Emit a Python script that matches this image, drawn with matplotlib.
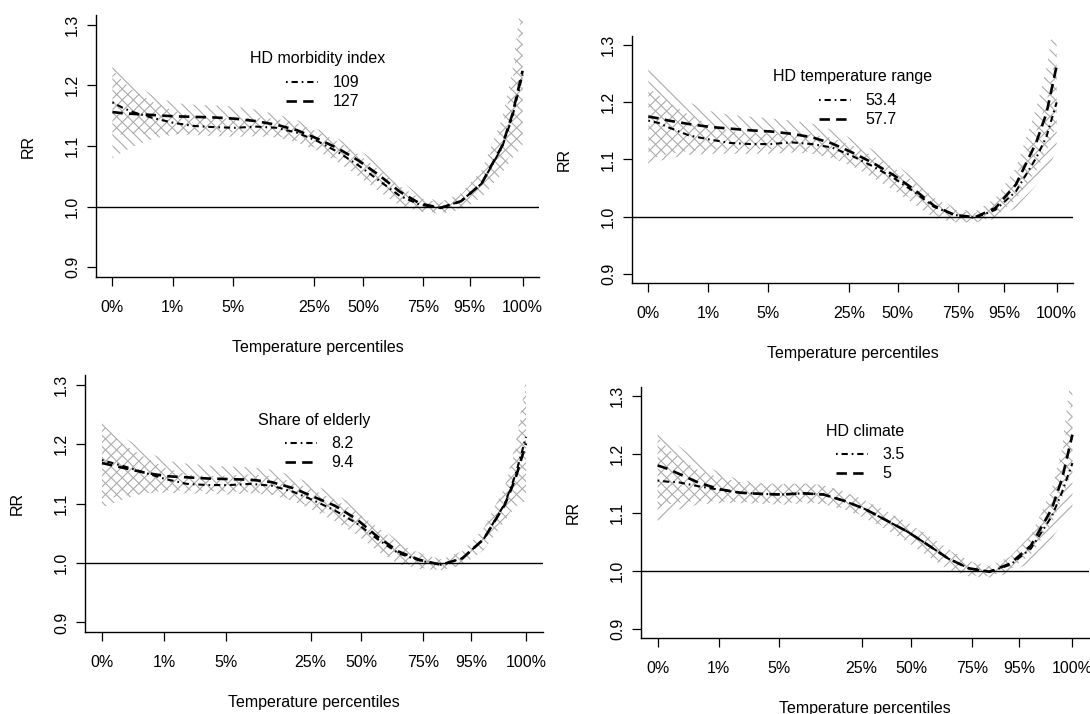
import matplotlib
matplotlib.use("Agg")
import matplotlib.pyplot as plt

plt.rcParams['font.family'] = ['Liberation Sans', 'DejaVu Sans']
plt.rcParams['font.size'] = 11.5
plt.rcParams['hatch.linewidth'] = 0.8
plt.rcParams['lines.scale_dashes'] = False

# temperature grid (x) and tick positions for the percentiles
temp = [-20, -18.75, -17.5, -15, -12.5, -10, -7.5, -5, -2.5, 0, 2.5, 5, 7.5,
        10, 12.5, 15, 17.5, 20, 22.5, 25, 27.5, 28.75, 30]
tick_temp = [-20, -12.65, -5.35, 4.6, 10.55, 17.9, 23.55, 30]
tick_labels = ['0%', '1%', '5%', '25%', '50%', '75%', '95%', '100%']

# panel 1: HD morbidity index
p1_title = 'HD morbidity index'
p1_labels = ['109', '127']
p1_dotdash = [1.172, 1.163, 1.156, 1.146, 1.138, 1.133, 1.131, 1.130, 1.132, 1.130, 1.122, 1.108,
              1.090, 1.068, 1.043, 1.018, 1.003, 0.998, 1.009, 1.038, 1.098, 1.148, 1.218]
p1_dashed = [1.156, 1.154, 1.153, 1.151, 1.149, 1.148, 1.147, 1.145, 1.141, 1.135, 1.126, 1.112,
             1.096, 1.076, 1.052, 1.025, 1.005, 0.998, 1.009, 1.038, 1.100, 1.152, 1.224]
p1_a_lo = [1.080, 1.090, 1.099, 1.112, 1.119, 1.122, 1.123, 1.123, 1.121, 1.117, 1.108, 1.096,
           1.078, 1.056, 1.030, 1.005, 0.992, 0.988, 0.995, 1.015, 1.055, 1.080, 1.100]
p1_a_hi = [1.232, 1.217, 1.204, 1.183, 1.171, 1.168, 1.167, 1.165, 1.160, 1.152, 1.143, 1.128,
           1.112, 1.094, 1.072, 1.045, 1.018, 1.008, 1.022, 1.060, 1.145, 1.225, 1.360]
p1_b_lo = [1.118, 1.119, 1.120, 1.120, 1.119, 1.118, 1.116, 1.115, 1.116, 1.114, 1.106, 1.092,
           1.073, 1.050, 1.025, 1.002, 0.992, 0.990, 0.998, 1.020, 1.065, 1.090, 1.105]
p1_b_hi = [1.226, 1.207, 1.192, 1.172, 1.158, 1.149, 1.146, 1.145, 1.147, 1.145, 1.138, 1.124,
           1.107, 1.086, 1.061, 1.034, 1.014, 1.006, 1.020, 1.056, 1.130, 1.205, 1.330]

# panel 2: HD temperature range
p2_title = 'HD temperature range'
p2_labels = ['53.4', '57.7']
p2_dotdash = [1.168, 1.164, 1.156, 1.142, 1.135, 1.129, 1.127, 1.127, 1.130, 1.127, 1.121, 1.106,
              1.088, 1.068, 1.044, 1.017, 1.003, 0.998, 1.012, 1.044, 1.103, 1.140, 1.200]
p2_dashed = [1.175, 1.172, 1.168, 1.162, 1.157, 1.154, 1.151, 1.149, 1.145, 1.139, 1.128, 1.112,
             1.094, 1.073, 1.048, 1.019, 1.003, 0.999, 1.015, 1.056, 1.130, 1.181, 1.264]
p2_a_lo = [1.100, 1.105, 1.110, 1.115, 1.117, 1.118, 1.118, 1.118, 1.117, 1.113, 1.104, 1.090,
           1.073, 1.052, 1.028, 1.003, 0.992, 0.990, 1.000, 1.030, 1.080, 1.115, 1.160]
p2_a_hi = [1.267, 1.245, 1.225, 1.200, 1.185, 1.178, 1.175, 1.172, 1.168, 1.163, 1.152, 1.136,
           1.117, 1.095, 1.068, 1.038, 1.015, 1.009, 1.032, 1.085, 1.190, 1.260, 1.370]
p2_b_lo = [1.092, 1.097, 1.102, 1.108, 1.110, 1.110, 1.110, 1.110, 1.112, 1.110, 1.102, 1.088,
           1.068, 1.047, 1.022, 0.998, 0.990, 0.990, 0.996, 1.015, 1.055, 1.080, 1.115]
p2_b_hi = [1.225, 1.213, 1.200, 1.178, 1.161, 1.150, 1.145, 1.144, 1.147, 1.144, 1.138, 1.124,
           1.106, 1.086, 1.062, 1.033, 1.012, 1.006, 1.026, 1.072, 1.150, 1.200, 1.290]

# panel 3: Share of elderly
p3_title = 'Share of elderly'
p3_labels = ['8.2', '9.4']
p3_dotdash = [1.173, 1.168, 1.163, 1.152, 1.141, 1.133, 1.131, 1.131, 1.133, 1.130, 1.120, 1.105,
              1.088, 1.067, 1.040, 1.016, 1.004, 0.997, 1.008, 1.040, 1.100, 1.148, 1.212]
p3_dashed = [1.168, 1.164, 1.160, 1.152, 1.146, 1.144, 1.142, 1.141, 1.140, 1.136, 1.126, 1.111,
             1.096, 1.074, 1.044, 1.019, 1.005, 0.997, 1.008, 1.040, 1.098, 1.142, 1.201]
p3_a_lo = [1.093, 1.100, 1.107, 1.117, 1.122, 1.122, 1.121, 1.120, 1.119, 1.116, 1.106, 1.092,
           1.076, 1.053, 1.024, 1.002, 0.992, 0.988, 0.996, 1.022, 1.070, 1.095, 1.105]
p3_a_hi = [1.240, 1.225, 1.212, 1.190, 1.172, 1.167, 1.164, 1.162, 1.161, 1.157, 1.147, 1.131,
           1.116, 1.095, 1.064, 1.036, 1.017, 1.006, 1.020, 1.058, 1.128, 1.190, 1.300]
p3_b_lo = [1.107, 1.110, 1.113, 1.117, 1.118, 1.117, 1.116, 1.115, 1.117, 1.114, 1.104, 1.088,
           1.070, 1.048, 1.020, 0.998, 0.990, 0.988, 0.996, 1.022, 1.072, 1.100, 1.115]
p3_b_hi = [1.232, 1.215, 1.200, 1.178, 1.160, 1.149, 1.146, 1.147, 1.149, 1.146, 1.136, 1.122,
           1.106, 1.086, 1.060, 1.032, 1.016, 1.006, 1.020, 1.058, 1.128, 1.200, 1.310]

# panel 4: HD climate
p4_title = 'HD climate'
p4_labels = ['3.5', '5']
p4_dotdash = [1.155, 1.153, 1.152, 1.145, 1.139, 1.134, 1.132, 1.131, 1.133, 1.131, 1.120, 1.106,
              1.087, 1.068, 1.045, 1.021, 1.004, 0.998, 1.010, 1.038, 1.093, 1.135, 1.185]
p4_dashed = [1.181, 1.175, 1.167, 1.151, 1.140, 1.134, 1.132, 1.131, 1.133, 1.131, 1.120, 1.106,
             1.087, 1.068, 1.045, 1.021, 1.004, 0.998, 1.012, 1.043, 1.106, 1.158, 1.234]
p4_a_lo = [1.110, 1.114, 1.117, 1.120, 1.119, 1.118, 1.117, 1.116, 1.118, 1.116, 1.107, 1.093,
           1.074, 1.054, 1.030, 1.006, 0.992, 0.990, 1.002, 1.028, 1.080, 1.125, 1.170]
p4_a_hi = [1.240, 1.228, 1.215, 1.188, 1.168, 1.156, 1.151, 1.149, 1.150, 1.147, 1.135, 1.120,
           1.101, 1.083, 1.060, 1.036, 1.016, 1.008, 1.024, 1.060, 1.140, 1.210, 1.360]
p4_b_lo = [1.085, 1.096, 1.105, 1.114, 1.116, 1.116, 1.115, 1.113, 1.116, 1.114, 1.105, 1.090,
           1.071, 1.050, 1.026, 1.002, 0.990, 0.988, 0.995, 1.015, 1.055, 1.080, 1.105]
p4_b_hi = [1.230, 1.210, 1.195, 1.172, 1.160, 1.152, 1.149, 1.148, 1.150, 1.147, 1.136, 1.121,
           1.103, 1.084, 1.062, 1.038, 1.017, 1.008, 1.024, 1.062, 1.135, 1.200, 1.300]

# axes boxes in pixels: left, right, top, bottom; legend title offset from top
boxes = [(96, 539, 15, 277), (632, 1073, 36, 283), (85, 543, 375, 632), (641, 1089, 387, 638)]
title_off = [44, 41, 45, 44]

panels = [
    (p1_title, p1_labels, p1_dotdash, p1_dashed, p1_a_lo, p1_a_hi, p1_b_lo, p1_b_hi),
    (p2_title, p2_labels, p2_dotdash, p2_dashed, p2_a_lo, p2_a_hi, p2_b_lo, p2_b_hi),
    (p3_title, p3_labels, p3_dotdash, p3_dashed, p3_a_lo, p3_a_hi, p3_b_lo, p3_b_hi),
    (p4_title, p4_labels, p4_dotdash, p4_dashed, p4_a_lo, p4_a_hi, p4_b_lo, p4_b_hi),
]

W, H = 1090, 714
fig = plt.figure(figsize=(W / 100, H / 100), dpi=100)
hatch_col = '#ababab'

for (title, labels, dd, da, alo, ahi, blo, bhi), (l, r, t, b), toff in zip(panels, boxes, title_off):
    ax = fig.add_axes([l / W, 1 - b / H, (r - l) / W, (b - t) / H])
    aw, ah = r - l, b - t

    ax.fill_between(temp, alo, ahi, facecolor='none', edgecolor=hatch_col,
                    hatch='\\\\\\', linewidth=0)
    ax.fill_between(temp, blo, bhi, facecolor='none', edgecolor=hatch_col,
                    hatch='///', linewidth=0)
    ax.axhline(1.0, color='black', lw=1.0)
    l1, = ax.plot(temp, dd, color='black', lw=1.5, dashes=(1.2, 2.8, 4.5, 2.8))
    l2, = ax.plot(temp, da, color='black', lw=1.9, dashes=(7.5, 4.5))

    ax.set_xlim(-22, 32)
    ax.set_ylim(0.884, 1.316)
    ax.set_xticks(tick_temp)
    ax.set_xticklabels(tick_labels)
    ax.set_yticks([0.9, 1.0, 1.1, 1.2, 1.3])
    ax.set_yticklabels(['0.9', '1.0', '1.1', '1.2', '1.3'], rotation=90, va='center')
    ax.spines['top'].set_visible(False)
    ax.spines['right'].set_visible(False)
    for s in ('left', 'bottom'):
        ax.spines[s].set_linewidth(1.0)
    ax.tick_params(axis='x', length=6.5, width=0.9, pad=10)
    ax.tick_params(axis='y', length=6.5, width=0.9, pad=5)

    ax.set_xlabel('Temperature percentiles', va='center')
    ax.xaxis.set_label_coords(0.5, -71 / ah)
    ax.set_ylabel('RR', va='center')
    ax.yaxis.set_label_coords(-68 / aw, 0.5)

    ax.text(0.5, 1 - toff / ah, title, transform=ax.transAxes, ha='center', va='center')
    ax.legend([l1, l2], labels, frameon=False, loc='upper center',
              bbox_to_anchor=(0.5 + 5 / aw, 1 - (toff + 5) / ah), handlelength=2.0,
              handletextpad=0.9, labelspacing=0.25, borderpad=0.2, fontsize=11.5)

fig.savefig('out.png', dpi=100)
